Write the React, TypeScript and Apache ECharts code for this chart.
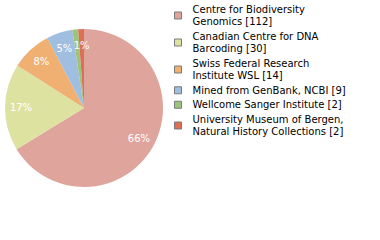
import React, { useEffect, useRef } from "react";
import * as echarts from "echarts";

const categories = [
  "Centre for Biodiversity Genomics",
  "Canadian Centre for DNA Barcoding",
  "Swiss Federal Research Institute WSL",
  "Mined from GenBank, NCBI",
  "Wellcome Sanger Institute",
  "University Museum of Bergen, Natural History Collections",
];
const values = [112, 30, 14, 9, 2, 2];
const legendLabels = [
  "Centre for Biodiversity\nGenomics [112]",
  "Canadian Centre for DNA\nBarcoding [30]",
  "Swiss Federal Research\nInstitute WSL [14]",
  "Mined from GenBank, NCBI [9]",
  "Wellcome Sanger Institute [2]",
  "University Museum of Bergen,\nNatural History Collections [2]",
];
const colors = ["#dfa59c", "#dee2a0", "#efb072", "#9fbee0", "#9cc47b", "#dd6f52"];

export default function App() {
  const ref = useRef<HTMLDivElement>(null);
  useEffect(() => {
    if (!ref.current) return;
    const chart = echarts.init(ref.current, undefined, { renderer: "svg" });
    const data = categories.map((name, i) => ({ name, value: values[i] }));
    const total = values.reduce((a, b) => a + b, 0);
    chart.setOption({
      animation: false,
      color: colors,
      textStyle: { fontFamily: "DejaVu Sans" },
      legend: {
        orient: "vertical",
        left: 174,
        top: 3,
        padding: 0,
        itemWidth: 7,
        itemHeight: 7,
        itemGap: 2,
        icon: "rect",
        selectedMode: false,
        itemStyle: { borderColor: "#7a7a7a", borderWidth: 1 },
        textStyle: {
          fontFamily: "DejaVu Sans",
          fontSize: 10,
          lineHeight: 12.5,
          color: "#000",
          padding: [0, 0, 0, 6],
        },
        formatter: (name: string) => legendLabels[categories.indexOf(name)],
        data: categories,
      },
      series: [
        {
          type: "pie",
          center: [84, 108],
          radius: 79,
          startAngle: 90,
          clockwise: true,
          silent: true,
          label: { show: false },
          labelLine: { show: false },
          data,
        },
        {
          type: "pie",
          center: [84, 108],
          radius: [41, 79],
          startAngle: 90,
          clockwise: true,
          silent: true,
          itemStyle: { color: "transparent" },
          label: {
            show: true,
            position: "inside",
            color: "#fff",
            fontFamily: "DejaVu Sans",
            fontSize: 10,
            formatter: (p: any) => Math.floor((p.value / total) * 100) + "%",
          },
          labelLine: { show: false },
          data,
        },
      ],
    });
    return () => chart.dispose();
  }, []);
  return (
    <div
      ref={ref}
      style={{ position: "absolute", left: 0, top: 0, width: 380, height: 240 }}
    />
  );
}
